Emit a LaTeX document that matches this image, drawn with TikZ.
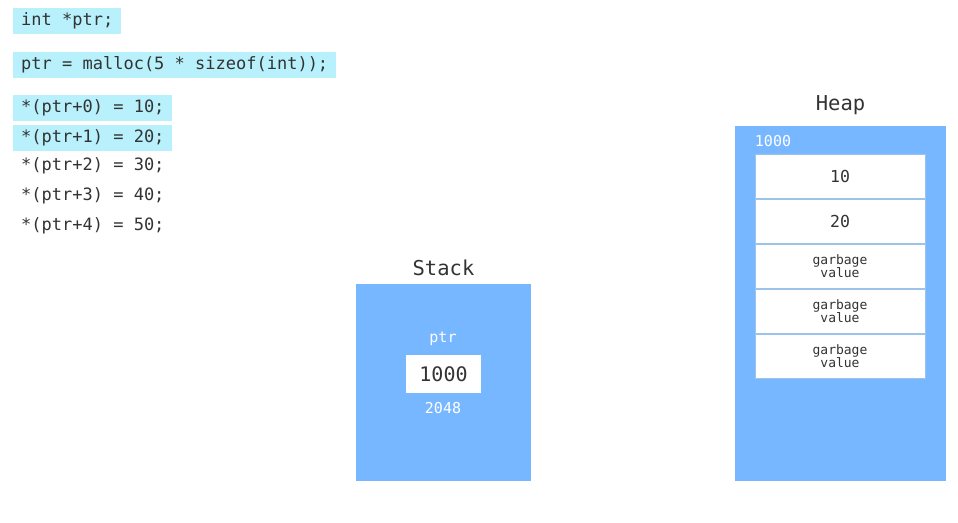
\documentclass[tikz,border=0pt]{standalone}
\usepackage{fontspec}
\setmonofont{DejaVu Sans Mono}
\usetikzlibrary{positioning}
\definecolor{hilite}{HTML}{B8F0FB}
\definecolor{memblue}{HTML}{77B7FF}
\definecolor{inkgray}{HTML}{333333}
\definecolor{cellline}{HTML}{9DC3EA}

\begin{document}
\begin{tikzpicture}[x=1pt,y=-1pt,
  every node/.style={font=\ttfamily,text=inkgray},
  code/.style={anchor=west,inner xsep=8pt,inner ysep=0pt,minimum height=26pt,font=\fontsize{17}{20}\ttfamily},
  hl/.style={code,fill=hilite},
  mem/.style={fill=memblue,inner sep=0pt},
  title/.style={font=\fontsize{20.5}{24}\ttfamily},
  cell/.style={fill=white,draw=cellline,line width=0.8pt,minimum width=170pt,minimum height=44.2pt,inner sep=0pt,font=\fontsize{16.5}{20}\ttfamily},
  junk/.style={cell,font=\fontsize{13}{13.5}\ttfamily,align=center},
  addr/.style={text=white,font=\fontsize{15}{18}\ttfamily}]
\useasboundingbox (0,0) rectangle (958,522);

% code
\node[hl] (decl) at (13,21) {int *ptr;};
\node[hl] (alloc) at (13,65) {ptr = malloc(5 * sizeof(int));};
\node[hl] (set0) at (13,108) {*(ptr+0) = 10;};
\node[hl] (set1) at (13,138) {*(ptr+1) = 20;};
\node[code] (set2) at (13,166) {*(ptr+2) = 30;};
\node[code] (set3) at (13,196) {*(ptr+3) = 40;};
\node[code] (set4) at (13,226) {*(ptr+4) = 50;};

% stack
\node[mem,minimum width=175pt,minimum height=197pt] (stack) at (443.5,382.5) {};
\node[title,above=4pt of stack] (stacktitle) {Stack};
\node[addr] (ptrname) at (443,339) {ptr};
\node[fill=white,minimum width=75pt,minimum height=38pt,inner sep=0pt,font=\fontsize{20}{24}\ttfamily] (ptrval) at (443.5,374) {1000};
\node[addr] (ptraddr) at (443,408) {2048};

% heap
\node[mem,minimum width=211pt,minimum height=355pt] (heap) at (840.5,303.5) {};
\node[title,above=8pt of heap] (heaptitle) {Heap};
\node[addr] (heapaddr) at (773,141) {1000};
\node[cell] (h0) at (840,176) {10};
\node[cell,below=0pt of h0] (h1) {20};
\node[junk,below=0pt of h1] (h2) {garbage\\value};
\node[junk,below=0pt of h2] (h3) {garbage\\value};
\node[junk,below=0pt of h3] (h4) {garbage\\value};
\end{tikzpicture}
\end{document}
